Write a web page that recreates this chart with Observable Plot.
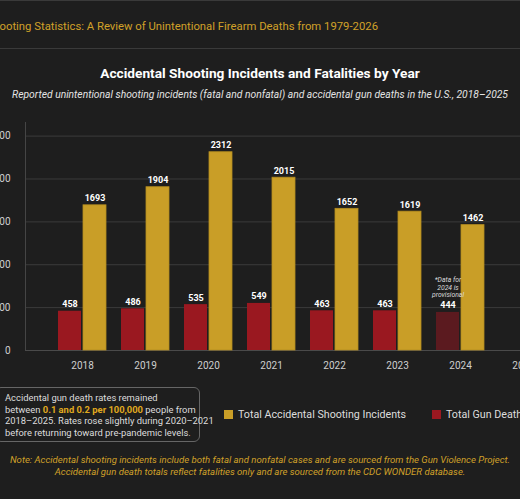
<!doctype html>
<html>
<head>
<meta charset="utf-8">
<style>
  body { margin: 0; background: #1e1e1e; font-family: Roboto, sans-serif; }
  #page { position: relative; width: 520px; height: 499px; overflow: hidden; background: #1e1e1e; }
  .rule { position: absolute; left: 0; width: 520px; height: 1px; background: #3a3a3a; }
  #header { position: absolute; right: 142px; top: 20px; white-space: nowrap; font-size: 11.3px; color: #d1a129; }
  #title { position: absolute; left: -100px; width: 720px; top: 65px; text-align: center; font-size: 13.7px; font-weight: bold; color: #fff; }
  #subtitle { position: absolute; left: -100px; width: 720px; top: 88px; text-align: center; font-size: 10.3px; font-style: italic; color: #e4e4e4; white-space: nowrap; }
  #myplot { position: absolute; left: -45px; top: 110px; width: 625px; }
  #myplot svg { max-width: none; }
  #box { position: absolute; left: -5px; top: 387px; width: 205px; height: 55px; box-sizing: border-box; border: 1px solid #666; border-radius: 6px; padding: 4px 0 0 9px; font-size: 9.4px; line-height: 11.7px; color: #ddd; white-space: nowrap; }
  #box b { color: #e0aa1e; }
  .leg { position: absolute; top: 408px; font-size: 10.7px; color: #ddd; white-space: nowrap; }
  .leg span.sw { position: absolute; left: -14px; top: 2px; width: 9px; height: 9px; }
  #note { position: absolute; left: -100px; width: 720px; top: 454px; text-align: center; font-size: 9.6px; line-height: 12px; font-style: italic; color: #d1a129; white-space: nowrap; }
</style>
</head>
<body>
<div id="page">
  <div class="rule" style="top:0"></div>
  <div id="header">Accidental Shooting Statistics: A Review of Unintentional Firearm Deaths from 1979-2026</div>
  <div class="rule" style="top:48px"></div>
  <div id="title">Accidental Shooting Incidents and Fatalities by Year</div>
  <div id="subtitle">Reported unintentional shooting incidents (fatal and nonfatal) and accidental gun deaths in the U.S., 2018–2025</div>
  <div id="myplot"></div>
  <div id="box">Accidental gun death rates remained<br>between <b>0.1 and 0.2 per 100,000</b> people from<br>2018–2025. Rates rose slightly during 2020–2021<br>before returning toward pre-pandemic levels.</div>
  <div class="leg" id="leg1" style="left:238px"><span class="sw"></span>Total Accidental Shooting Incidents</div>
  <div class="leg" id="leg2" style="left:446px"><span class="sw"></span>Total Gun Deaths</div>
  <div id="note">Note: Accidental shooting incidents include both fatal and nonfatal cases and are sourced from the Gun Violence Project.<br>Accidental gun death totals reflect fatalities only and are sourced from the CDC WONDER database.</div>
</div>
<script src="https://cdn.jsdelivr.net/npm/d3@7"></script>
<script src="https://cdn.jsdelivr.net/npm/@observablehq/plot@0.6"></script>
<script>
  const years = ["2018", "2019", "2020", "2021", "2022", "2023", "2024", "2025"];
  const incidents = [1693, 1904, 2312, 2015, 1652, 1619, 1462, null];
  const deaths = [458, 486, 535, 549, 463, 463, 444, null];
  const provisional = ["2024"];
  const yTicks = [0, 500, 1000, 1500, 2000, 2500];

  const gold = "#c99e27";
  const red = "#9a1820";
  const darkRed = "#5b1a1f";
  document.querySelector("#leg1 .sw").style.background = gold;
  document.querySelector("#leg2 .sw").style.background = red;

  const inc = years.map((year, i) => ({ year, value: incidents[i] })).filter((d) => d.value != null);
  const dea = years.map((year, i) => ({ year, value: deaths[i] })).filter((d) => d.value != null);
  const notes = dea.filter((d) => provisional.includes(d.year));

  const plot = Plot.plot({
    width: 625,
    height: 275,
    marginLeft: 70,
    marginRight: 0,
    marginTop: 12,
    marginBottom: 35,
    style: { background: "transparent", color: "#cfcfcf", fontFamily: "Roboto, sans-serif" },
    x: { domain: years, paddingInner: 0.238, paddingOuter: 0.5, label: null, tickSize: 0, tickPadding: 11, fontSize: 12 },
    y: { domain: [0, d3.max(incidents) * 1.15], ticks: yTicks, tickFormat: (d) => String(d), label: null, tickSize: 0, tickPadding: 15, fontSize: 12 },
    marks: [
      Plot.gridY(yTicks, { stroke: "#3b3b3b", strokeOpacity: 1 }),
      Plot.frame({ anchor: "left", stroke: "#454545" }),
      Plot.ruleY([0], { stroke: "#4a4a4a" }),
      Plot.barY(dea, {
        x: "year", y: "value", insetRight: 25,
        fill: (d) => (provisional.includes(d.year) ? darkRed : red)
      }),
      Plot.barY(inc, { x: "year", y: "value", insetLeft: 25, fill: gold, stroke: "#b58d1f", strokeWidth: 0.8 }),
      Plot.text(dea, { x: "year", y: "value", text: (d) => String(d.value), dx: -12.5, dy: -4, lineAnchor: "bottom", fill: "#fff", fontWeight: "bold", fontSize: 9 }),
      Plot.text(inc, { x: "year", y: "value", text: (d) => String(d.value), dx: 12.5, dy: -4, lineAnchor: "bottom", fill: "#fff", fontWeight: "bold", fontSize: 9 }),
      Plot.text(notes, {
        x: "year", y: "value", text: (d) => `*Data for\n${d.year} is\nprovisional`,
        dx: -12.5, dy: -15, lineAnchor: "bottom", lineHeight: 1.1, fill: "#dcdcdc", fontStyle: "italic", fontSize: 6.8
      })
    ]
  });

  document.querySelector("#myplot").append(plot);
</script>
</body>
</html>
